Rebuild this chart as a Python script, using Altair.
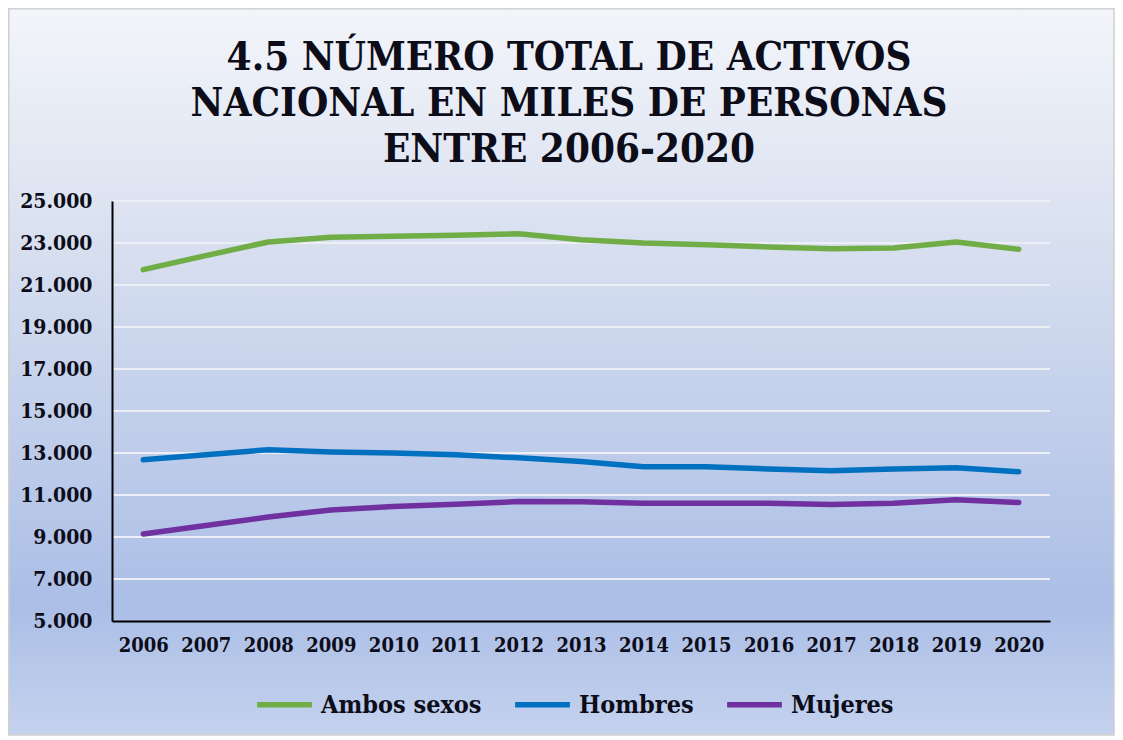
import altair as alt
import pandas as pd

years = ["2006", "2007", "2008", "2009", "2010", "2011", "2012", "2013",
         "2014", "2015", "2016", "2017", "2018", "2019", "2020"]
ambos = [21730, 22400, 23050, 23270, 23320, 23365, 23440, 23160,
         23000, 22920, 22810, 22730, 22760, 23050, 22700]
hombres = [12680, 12920, 13160, 13050, 13000, 12920, 12770, 12600,
           12350, 12350, 12240, 12160, 12240, 12300, 12110]
mujeres = [9145, 9550, 9950, 10290, 10450, 10560, 10690, 10680,
           10610, 10610, 10610, 10550, 10610, 10770, 10645]
series_names = ["Ambos sexos", "Hombres", "Mujeres"]
colors = ["#70AD47", "#0070C0", "#7030A0"]
y_ticks = [5000, 7000, 9000, 11000, 13000, 15000, 17000, 19000, 21000, 23000, 25000]
title_lines = ["4.5 NÚMERO TOTAL DE ACTIVOS",
               "NACIONAL EN MILES DE PERSONAS",
               "ENTRE 2006-2020"]

rows = []
for name, vals in zip(series_names, [ambos, hombres, mujeres]):
    for yr, v in zip(years, vals):
        rows.append({"Año": yr, "Serie": name, "Valor": v})
df = pd.DataFrame(rows)
grid_df = pd.DataFrame({"v": y_ticks[1:]})

W, H = 938, 420
PL, PT, PR, PB = 104, 193, 65, 115
FONT = "DejaVu Serif Condensed, DejaVu Serif, serif"
TXT = "#0d0d1a"

bg = alt.Chart(pd.DataFrame({"a": [0]})).mark_rect(
    fill=alt.Gradient(
        gradient="linear",
        stops=[
            alt.GradientStop(offset=0, color="#f3f5fa"),
            alt.GradientStop(offset=0.3, color="#dae1f0"),
            alt.GradientStop(offset=0.82, color="#abbee6"),
            alt.GradientStop(offset=1, color="#c4d2ee"),
        ],
        x1=0, y1=0, x2=0, y2=1,
    ),
    stroke="#d0d0d0", strokeWidth=1.5,
).encode(
    x=alt.value(-PL + 0.75), x2=alt.value(W + PR - 1),
    y=alt.value(-PT + 0.75), y2=alt.value(H + PB - 1),
)

title = alt.Chart(pd.DataFrame({"a": [0]})).mark_text(
    font=FONT, fontSize=40, fontWeight="bold", color=TXT, align="center",
    baseline="alphabetic", lineHeight=46,
).encode(
    text=alt.value(title_lines),
    x=alt.value(457), y=alt.value(-131),
)

grid = alt.Chart(grid_df).mark_rule(color="#eceff5", strokeWidth=2).encode(
    y=alt.Y("v:Q", scale=alt.Scale(domain=[5000, 25000], nice=False, zero=False))
)

lines = alt.Chart(df).mark_line(strokeWidth=5.5, strokeCap="round", strokeJoin="round").encode(
    x=alt.X("Año:O", sort=years, scale=alt.Scale(padding=0.5),
            axis=alt.Axis(title=None, labelAngle=0, ticks=False, domainColor="black",
                          domainWidth=2, labelFont=FONT, labelFontWeight="bold",
                          labelFontSize=20, labelColor=TXT, labelPadding=14, zindex=1)),
    y=alt.Y("Valor:Q", scale=alt.Scale(domain=[5000, 25000], nice=False, zero=False),
            axis=alt.Axis(title=None, values=y_ticks, grid=False, ticks=False,
                          domainColor="black", domainWidth=2,
                          labelExpr="replace(format(datum.value, ','), ',', '.')",
                          labelFont=FONT, labelFontWeight="bold", labelFontSize=21,
                          labelColor=TXT, labelPadding=20, zindex=1)),
    color=alt.Color("Serie:N", sort=series_names,
                    scale=alt.Scale(domain=series_names, range=colors),
                    legend=alt.Legend(title=None, orient="none", legendX=142, legendY=473,
                                      direction="horizontal", symbolType="stroke",
                                      symbolSize=3000, symbolStrokeWidth=5.5,
                                      labelFont=FONT, labelFontWeight="bold",
                                      labelFontSize=25, labelColor=TXT, labelOffset=6,
                                      labelLimit=400, columnPadding=22,
                                      symbolOpacity=1, zindex=1)),
    detail="Serie:N",
)

chart = alt.layer(bg, title, grid, lines).resolve_scale(y="shared").properties(
    width=W, height=H,
    padding={"left": PL, "top": PT, "right": PR, "bottom": PB},
    autosize="none",
    background="white",
).configure_view(stroke=None)

chart.save("out.html", embed_options={"renderer": "svg", "actions": False})
